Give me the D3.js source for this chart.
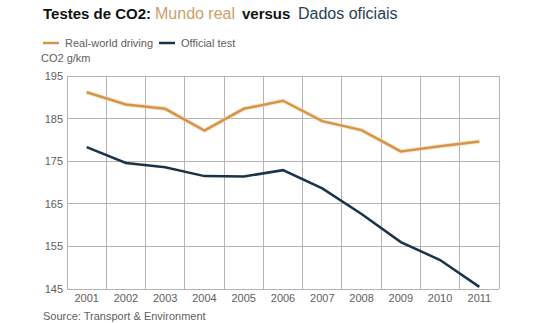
<!DOCTYPE html>
<html><head><meta charset="utf-8">
<script src="https://cdn.jsdelivr.net/npm/d3@7"></script>
<style>
body{margin:0;background:#fff;}
svg{display:block;font-family:"Liberation Sans",Arial,sans-serif;}
</style></head>
<body>
<svg id="c" width="550" height="323"></svg>
<script>
const years = ["2001","2002","2003","2004","2005","2006","2007","2008","2009","2010","2011"];
const realWorld = [191.2,188.3,187.3,182.2,187.3,189.2,184.4,182.3,177.3,178.5,179.6];
const officialTest = [178.3,174.6,173.6,171.5,171.4,172.9,168.6,162.6,156.0,151.8,145.5];
const yTicks = [145,155,165,175,185,195];
const seriesNames = ["Real-world driving","Official test"];
const titleParts = ["Testes de CO2:","Mundo real","versus","Dados oficiais"];

const orange = "#d4954a", navy = "#1c3347", grid = "#b4b4b4", txt = "#5e5e5e";
const svg = d3.select("#c");
const m = {l:67, r:499, t:76, b:289};
const x = d3.scaleBand().domain(years).range([m.l, m.r]);
const y = d3.scaleLinear().domain([145,195]).range([m.b, m.t]);

// title
const tstyle = [
  {x:43, w:"bold", c:"#111", s:15},
  {x:155, w:"normal", c:"#c9a06a", s:16},
  {x:242, w:"bold", c:"#111", s:15},
  {x:298, w:"normal", c:"#2c3e50", s:16}
];
titleParts.forEach((p,i)=>{
  svg.append("text").attr("x",tstyle[i].x).attr("y",19).attr("font-size",tstyle[i].s)
    .attr("font-weight",tstyle[i].w).attr("fill",tstyle[i].c).text(p);
});

// legend
const lg = [{n:seriesNames[0],c:orange,x:43},{n:seriesNames[1],c:navy,x:159}];
lg.forEach(d=>{
  svg.append("line").attr("x1",d.x).attr("x2",d.x+16).attr("y1",43).attr("y2",43)
    .attr("stroke",d.c).attr("stroke-width",2.5);
  svg.append("text").attr("x",d.x+22).attr("y",47).attr("font-size",11).attr("fill",txt).text(d.n);
});
svg.append("text").attr("x",41).attr("y",62).attr("font-size",11).attr("fill",txt).text("CO2 g/km");

// grid horizontal
svg.append("g").selectAll("line").data(yTicks).join("line")
  .attr("x1",m.l).attr("x2",m.r).attr("y1",d=>y(d)).attr("y2",d=>y(d))
  .attr("stroke",grid).attr("stroke-width",1).attr("shape-rendering","crispEdges");
// grid vertical (band boundaries)
const bounds = years.map(d=>x(d)).concat([x(years[years.length-1])+x.bandwidth()]);
svg.append("g").selectAll("line").data(bounds).join("line")
  .attr("x1",d=>d).attr("x2",d=>d).attr("y1",m.t).attr("y2",m.b)
  .attr("stroke",grid).attr("stroke-width",1).attr("shape-rendering","crispEdges");

// y axis labels
const ya = svg.append("g").attr("transform",`translate(${m.l-4},0)`)
  .call(d3.axisLeft(y).tickValues(yTicks).tickSize(0).tickPadding(0));
ya.select(".domain").remove();
ya.selectAll("text").attr("font-size",11).attr("fill",txt).attr("font-family","Liberation Sans,Arial,sans-serif");

// x axis labels
const xa = svg.append("g").attr("transform",`translate(0,${m.b+4})`)
  .call(d3.axisBottom(x).tickSize(0).tickPadding(0));
xa.select(".domain").remove();
xa.selectAll("text").attr("font-size",11).attr("fill",txt).attr("font-family","Liberation Sans,Arial,sans-serif").attr("dy","0.85em");

// lines
const line = d3.line().x((d,i)=>x(years[i])+x.bandwidth()/2).y(d=>y(d));
svg.append("path").datum(realWorld).attr("d",line).attr("fill","none")
  .attr("stroke","#f6d9b0").attr("stroke-width",4.5).attr("stroke-opacity",0.6);
svg.append("path").datum(realWorld).attr("d",line).attr("fill","none")
  .attr("stroke",orange).attr("stroke-width",2.5);
svg.append("path").datum(officialTest).attr("d",line).attr("fill","none")
  .attr("stroke",navy).attr("stroke-width",2.5);

// source
svg.append("text").attr("x",43).attr("y",320).attr("font-size",11).attr("fill",txt)
  .text("Source: Transport & Environment");
</script>
</body></html>
